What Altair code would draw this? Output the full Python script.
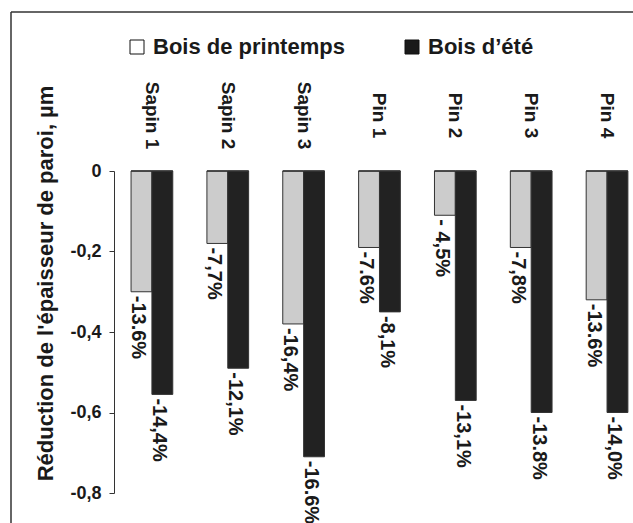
import altair as alt
import pandas as pd

categories = ["Sapin 1", "Sapin 2", "Sapin 3", "Pin 1", "Pin 2", "Pin 3", "Pin 4"]
series = ["Bois de printemps", "Bois d’été"]
printemps = [-0.30, -0.18, -0.38, -0.19, -0.11, -0.19, -0.32]
ete = [-0.555, -0.49, -0.71, -0.35, -0.57, -0.60, -0.60]
printemps_labels = ["-13.6%", "-7,7%", "-16,4%", "-7.6%", "- 4,5%", "-7,8%", "-13.6%"]
ete_labels = ["-14,4%", "-12,1%", "-16.6%", "-8,1%", "-13,1%", "-13.8%", "-14,0%"]
y_ticks = [0, -0.2, -0.4, -0.6, -0.8]

rows = []
for c, p, e, pl, el in zip(categories, printemps, ete, printemps_labels, ete_labels):
    rows.append({"cat": c, "serie": series[0], "val": p, "lab": pl})
    rows.append({"cat": c, "serie": series[1], "val": e, "lab": el})
df = pd.DataFrame(rows)

FONT = "Liberation Sans"
TXT = "#1a1a1a"

x_enc = alt.X(
    "cat:N", sort=categories,
    scale=alt.Scale(paddingInner=0.45, paddingOuter=0.146, align=0.77),
    axis=alt.Axis(orient="top", title=None, labelAngle=90, labelAlign="center",
                  labelBaseline="middle", labelPadding=56, ticks=False, tickSize=0,
                  domain=False, labelFontSize=19, labelFontWeight="bold",
                  labelFont=FONT, labelColor=TXT),
)
xo_enc = alt.XOffset("serie:N", sort=series, scale=alt.Scale(paddingInner=0, paddingOuter=0))
y_enc = alt.Y(
    "val:Q",
    scale=alt.Scale(domain=[-0.8, 0], nice=False),
    axis=alt.Axis(values=y_ticks,
                  labelExpr="datum.value == 0 ? '0' : '-' + replace(format(abs(datum.value), '.1f'), '.', ',')",
                  title="Réduction de l'épaisseur de paroi, µm",
                  titleFont=FONT, titleFontSize=22, titleFontWeight="bold", titleColor=TXT,
                  titleAngle=270, titleX=-69, titleY=112, titleAlign="center", titleBaseline="middle",
                  labelFont=FONT, labelFontSize=18, labelFontWeight="bold", labelColor=TXT,
                  grid=False, tickSize=5, labelPadding=8, domainColor="#333333",
                  tickColor="#333333"),
)

bars = alt.Chart(df).mark_bar(stroke="#333333", strokeWidth=1).encode(
    x=x_enc, xOffset=xo_enc, y=y_enc,
    fill=alt.Fill("serie:N", sort=series,
                  scale=alt.Scale(domain=series, range=["#cccccc", "#222222"]),
                  legend=None),
)

legend_layer = alt.Chart(df).mark_bar(stroke="#333333", strokeWidth=1).encode(
    x=x_enc, xOffset=xo_enc, y=alt.datum(0),
    fill=alt.Fill("serie:N", sort=series,
                  scale=alt.Scale(domain=series, range=["#ffffff", "#1a1a1a"]),
                  legend=alt.Legend(title=None, orient="none", legendX=12, legendY=-135,
                                    direction="horizontal", columns=2, columnPadding=56,
                                    symbolType="square", symbolSize=196,
                                    symbolStrokeColor="#111111", symbolStrokeWidth=1,
                                    labelFontSize=22, labelFontWeight="bold", labelFont=FONT,
                                    labelColor=TXT, labelOffset=5, labelLimit=400, padding=0)),
)

text = alt.Chart(df).mark_text(angle=90, align="left", baseline="middle", dx=4, dy=3,
                               font=FONT, fontSize=20, fontWeight="bold", color=TXT).encode(
    x=x_enc, xOffset=xo_enc, y=y_enc, text="lab:N"
)

frame_df = pd.DataFrame({"k": [0]})
top_line = alt.Chart(frame_df).mark_rule(color="#333333", strokeWidth=1.5).encode(
    x=alt.value(-103), x2=alt.value(519), y=alt.value(-159)
)
left_line = alt.Chart(frame_df).mark_rule(color="#333333", strokeWidth=1.5).encode(
    x=alt.value(-103), y=alt.value(-159), y2=alt.value(352)
)

chart = alt.layer(bars, legend_layer, text, top_line, left_line).resolve_scale(
    fill="independent"
).properties(
    width=519, height=322,
    autosize=alt.AutoSizeParams(type="none"),
    padding={"left": 114, "top": 171, "right": 0, "bottom": 30},
    background="white",
).configure_view(stroke=None)

chart.save("out.html", embed_options={"renderer": "svg", "actions": False})
